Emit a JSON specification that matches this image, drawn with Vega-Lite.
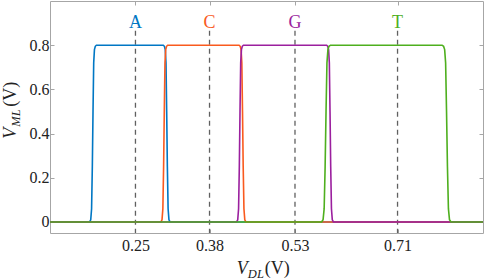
{
  "$schema": "https://vega.github.io/schema/vega-lite/v6.json",
  "width": 433,
  "height": 232,
  "autosize": {"type": "none"},
  "padding": {"left": 50, "top": 1, "right": 1, "bottom": 47},
  "config": {
    "view": {"stroke": "#a6a6a6", "strokeWidth": 1},
    "font": "Liberation Serif",
    "text": {"font": "Liberation Serif"},
    "axis": {
      "domain": false,
      "grid": false,
      "tickColor": "#a6a6a6",
      "tickSize": -4,
      "labelFont": "Liberation Serif",
      "labelFontSize": 16,
      "labelColor": "#222222",
      "title": null
    }
  },
  "datasets": {
    "curves": [
      {"s": "A", "v": 0.1, "m": 0},
      {"s": "A", "v": 0.1695, "m": 0},
      {"s": "A", "v": 0.1715, "m": 0.01},
      {"s": "A", "v": 0.173, "m": 0.06},
      {"s": "A", "v": 0.1743, "m": 0.25},
      {"s": "A", "v": 0.1755, "m": 0.5},
      {"s": "A", "v": 0.1767, "m": 0.72},
      {"s": "A", "v": 0.178, "m": 0.78},
      {"s": "A", "v": 0.1795, "m": 0.795},
      {"s": "A", "v": 0.1815, "m": 0.8},
      {"s": "A", "v": 0.2988, "m": 0.8},
      {"s": "A", "v": 0.3008, "m": 0.795},
      {"s": "A", "v": 0.3023, "m": 0.78},
      {"s": "A", "v": 0.3036, "m": 0.72},
      {"s": "A", "v": 0.3048, "m": 0.5},
      {"s": "A", "v": 0.306, "m": 0.25},
      {"s": "A", "v": 0.3073, "m": 0.06},
      {"s": "A", "v": 0.3088, "m": 0.01},
      {"s": "A", "v": 0.3108, "m": 0},
      {"s": "A", "v": 0.86, "m": 0},
      {"s": "C", "v": 0.1, "m": 0},
      {"s": "C", "v": 0.2946, "m": 0},
      {"s": "C", "v": 0.2966, "m": 0.01},
      {"s": "C", "v": 0.2981, "m": 0.06},
      {"s": "C", "v": 0.2994, "m": 0.25},
      {"s": "C", "v": 0.3006, "m": 0.5},
      {"s": "C", "v": 0.3018, "m": 0.72},
      {"s": "C", "v": 0.3031, "m": 0.78},
      {"s": "C", "v": 0.3046, "m": 0.795},
      {"s": "C", "v": 0.3066, "m": 0.8},
      {"s": "C", "v": 0.4319, "m": 0.8},
      {"s": "C", "v": 0.4339, "m": 0.795},
      {"s": "C", "v": 0.4354, "m": 0.78},
      {"s": "C", "v": 0.4367, "m": 0.72},
      {"s": "C", "v": 0.4379, "m": 0.5},
      {"s": "C", "v": 0.4391, "m": 0.25},
      {"s": "C", "v": 0.4404, "m": 0.06},
      {"s": "C", "v": 0.4419, "m": 0.01},
      {"s": "C", "v": 0.4439, "m": 0},
      {"s": "C", "v": 0.86, "m": 0},
      {"s": "G", "v": 0.1, "m": 0},
      {"s": "G", "v": 0.4275, "m": 0},
      {"s": "G", "v": 0.4295, "m": 0.01},
      {"s": "G", "v": 0.431, "m": 0.06},
      {"s": "G", "v": 0.4323, "m": 0.25},
      {"s": "G", "v": 0.4335, "m": 0.5},
      {"s": "G", "v": 0.4347, "m": 0.72},
      {"s": "G", "v": 0.436, "m": 0.78},
      {"s": "G", "v": 0.4375, "m": 0.795},
      {"s": "G", "v": 0.4395, "m": 0.8},
      {"s": "G", "v": 0.5855, "m": 0.8},
      {"s": "G", "v": 0.5875, "m": 0.795},
      {"s": "G", "v": 0.589, "m": 0.78},
      {"s": "G", "v": 0.5903, "m": 0.72},
      {"s": "G", "v": 0.5915, "m": 0.5},
      {"s": "G", "v": 0.5927, "m": 0.25},
      {"s": "G", "v": 0.594, "m": 0.06},
      {"s": "G", "v": 0.5955, "m": 0.01},
      {"s": "G", "v": 0.5975, "m": 0},
      {"s": "G", "v": 0.86, "m": 0},
      {"s": "T", "v": 0.1, "m": 0},
      {"s": "T", "v": 0.5767, "m": 0},
      {"s": "T", "v": 0.5793, "m": 0.01},
      {"s": "T", "v": 0.5812, "m": 0.06},
      {"s": "T", "v": 0.5829, "m": 0.25},
      {"s": "T", "v": 0.5845, "m": 0.5},
      {"s": "T", "v": 0.5861, "m": 0.72},
      {"s": "T", "v": 0.5878, "m": 0.78},
      {"s": "T", "v": 0.5897, "m": 0.795},
      {"s": "T", "v": 0.5923, "m": 0.8},
      {"s": "T", "v": 0.7882, "m": 0.8},
      {"s": "T", "v": 0.7908, "m": 0.795},
      {"s": "T", "v": 0.7927, "m": 0.78},
      {"s": "T", "v": 0.7944, "m": 0.72},
      {"s": "T", "v": 0.796, "m": 0.5},
      {"s": "T", "v": 0.7976, "m": 0.25},
      {"s": "T", "v": 0.7993, "m": 0.06},
      {"s": "T", "v": 0.8012, "m": 0.01},
      {"s": "T", "v": 0.8038, "m": 0},
      {"s": "T", "v": 0.86, "m": 0}
    ],
    "bases": [
      {"s": "A", "v": 0.25},
      {"s": "C", "v": 0.38},
      {"s": "G", "v": 0.53},
      {"s": "T", "v": 0.71}
    ]
  },
  "resolve": {"axis": {"x": "independent", "y": "independent"}},
  "layer": [
    {
      "data": {"name": "bases"},
      "mark": {"type": "rule", "color": "#606060", "strokeWidth": 1.3, "strokeDash": [5, 4]},
      "encoding": {
        "x": {
          "field": "v", "type": "quantitative",
          "scale": {"domain": [0.1, 0.86], "nice": false, "zero": false},
          "axis": {"orient": "bottom", "values": [0.25, 0.38, 0.53, 0.71], "format": ".2f", "labelPadding": 8}
        },
        "y": {
          "datum": 0.865, "type": "quantitative",
          "scale": {"domain": [-0.05, 1], "nice": false, "zero": false},
          "axis": {"orient": "left", "values": [0, 0.2, 0.4, 0.6, 0.8], "format": "~g", "labelPadding": 5}
        },
        "y2": {"datum": -0.05}
      }
    },
    {
      "data": {"name": "curves"},
      "mark": {"type": "line", "strokeWidth": 1.6, "clip": true},
      "encoding": {
        "x": {"field": "v", "type": "quantitative",
          "axis": {"orient": "top", "values": [0.25, 0.38, 0.53, 0.71], "labels": false}},
        "y": {"field": "m", "type": "quantitative",
          "axis": {"orient": "right", "values": [0, 0.2, 0.4, 0.6, 0.8], "labels": false}},
        "color": {"field": "s", "type": "nominal", "legend": null,
          "scale": {"domain": ["A", "C", "G", "T"], "range": ["#0077C4", "#F95A1E", "#9B1F9E", "#4EAF1E"]}}
      }
    },
    {
      "data": {"name": "bases"},
      "mark": {"type": "text", "fontSize": 18, "baseline": "middle"},
      "encoding": {
        "x": {"field": "v", "type": "quantitative", "axis": null},
        "y": {"datum": 0.9, "type": "quantitative", "axis": null},
        "text": {"field": "s"},
        "color": {"field": "s", "type": "nominal", "legend": null}
      }
    },
    {
      "data": {"values": [{}]},
      "layer": [
        {
          "mark": {"type": "text", "text": "V", "fontSize": 18, "fontStyle": "italic", "align": "left", "baseline": "alphabetic", "color": "#222222"},
          "encoding": {"x": {"datum": 0.428, "type": "quantitative", "axis": null}, "y": {"datum": -0.2337, "type": "quantitative", "axis": null}}
        },
        {
          "mark": {"type": "text", "text": "DL", "fontSize": 12.5, "fontStyle": "italic", "align": "left", "baseline": "alphabetic", "dx": 11, "dy": 4, "color": "#222222"},
          "encoding": {"x": {"datum": 0.428, "type": "quantitative", "axis": null}, "y": {"datum": -0.2337, "type": "quantitative", "axis": null}}
        },
        {
          "mark": {"type": "text", "text": "(V)", "fontSize": 18, "align": "left", "baseline": "alphabetic", "dx": 28, "color": "#222222"},
          "encoding": {"x": {"datum": 0.428, "type": "quantitative", "axis": null}, "y": {"datum": -0.2337, "type": "quantitative", "axis": null}}
        },
        {
          "mark": {"type": "text", "text": "V", "fontSize": 18, "fontStyle": "italic", "align": "left", "baseline": "alphabetic", "angle": 270, "color": "#222222"},
          "encoding": {"x": {"datum": 0.0405, "type": "quantitative", "axis": null}, "y": {"datum": 0.3765, "type": "quantitative", "axis": null}}
        },
        {
          "mark": {"type": "text", "text": "ML", "fontSize": 12.5, "fontStyle": "italic", "align": "left", "baseline": "alphabetic", "angle": 270, "dx": 12, "dy": 4, "color": "#222222"},
          "encoding": {"x": {"datum": 0.0405, "type": "quantitative", "axis": null}, "y": {"datum": 0.3765, "type": "quantitative", "axis": null}}
        },
        {
          "mark": {"type": "text", "text": "(V)", "fontSize": 18, "align": "left", "baseline": "alphabetic", "angle": 270, "dx": 32, "color": "#222222"},
          "encoding": {"x": {"datum": 0.0405, "type": "quantitative", "axis": null}, "y": {"datum": 0.3765, "type": "quantitative", "axis": null}}
        }
      ]
    }
  ]
}
